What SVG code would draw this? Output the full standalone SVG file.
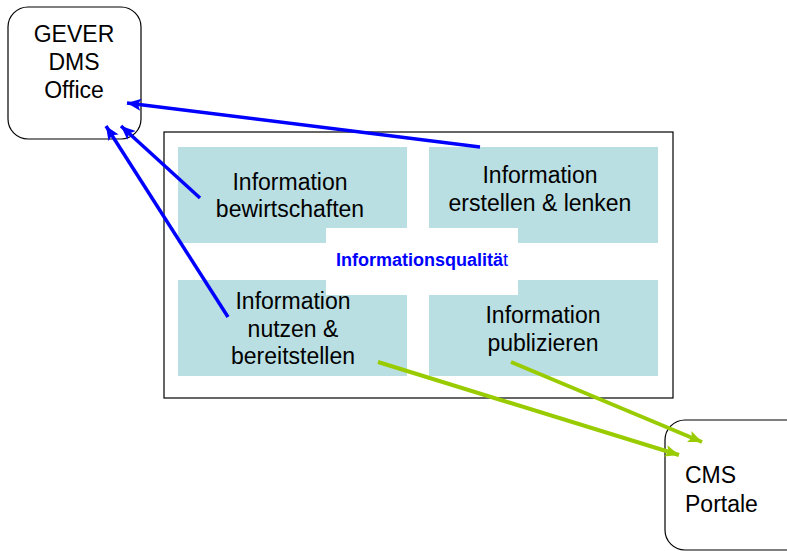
<svg xmlns="http://www.w3.org/2000/svg" width="787" height="551" viewBox="0 0 787 551">
  <style>
    .sys { fill: #ffffff; stroke: #000000; stroke-width: 1.2; }
    .task { fill: #b9dfe2; stroke: none; }
    .lbl { font-family: "Liberation Sans", Arial, sans-serif; font-size: 23px; fill: #000000; text-anchor: middle; }
    .qual { font-family: "Liberation Sans", Arial, sans-serif; font-size: 18px; fill: #0000ff; }
    .blue { stroke: #0000ff; stroke-width: 3.5; fill: none; marker-end: url(#hb); }
    .green { stroke: #99cc00; stroke-width: 4; fill: none; marker-end: url(#hg); }
  </style>
  <defs>
    <marker id="hb" markerUnits="userSpaceOnUse" markerWidth="16" markerHeight="12" refX="14" refY="6" orient="auto">
      <path d="M0,0 L14,6 L0,12 L3,6 Z" fill="#0000ff"/>
    </marker>
    <marker id="hg" markerUnits="userSpaceOnUse" markerWidth="16" markerHeight="12" refX="14" refY="6" orient="auto">
      <path d="M0,0 L14,6 L0,12 L3,6 Z" fill="#99cc00"/>
    </marker>
  </defs>

  <rect width="787" height="551" fill="#ffffff"/>

  <!-- outer frame around the four activities -->
  <g id="frame">
    <rect x="164" y="132" width="509" height="266" fill="#ffffff" stroke="#000000" stroke-width="1.2"/>
  </g>

  <g id="bewirtschaften">
    <rect class="task" x="178" y="147" width="229" height="96"/>
    <text class="lbl" x="290" y="190">Information</text>
    <text class="lbl" x="290" y="217">bewirtschaften</text>
  </g>

  <g id="erstellen">
    <rect class="task" x="429" y="147" width="229" height="96"/>
    <text class="lbl" x="540" y="183">Information</text>
    <text class="lbl" x="540" y="211">erstellen &amp; lenken</text>
  </g>

  <g id="nutzen">
    <rect class="task" x="178" y="280" width="229" height="96"/>
  </g>

  <g id="publizieren">
    <rect class="task" x="429" y="280" width="229" height="96"/>
  </g>

  <!-- central quality label, white panel over the inner corners -->
  <g id="qualitaet">
    <rect x="326" y="228" width="192" height="67" fill="#ffffff"/>
    <text class="qual" x="336" y="266"><tspan font-weight="bold">Informationsqualitä</tspan>t</text>
  </g>

  <g id="nutzen-label">
    <text class="lbl" x="293" y="309">Information</text>
    <text class="lbl" x="293" y="337">nutzen &amp;</text>
    <text class="lbl" x="293" y="364">bereitstellen</text>
  </g>

  <g id="publizieren-label">
    <text class="lbl" x="543" y="323">Information</text>
    <text class="lbl" x="543" y="351">publizieren</text>
  </g>

  <g id="gever">
    <rect class="sys" x="8" y="7" width="133" height="132" rx="20" ry="20"/>
    <text class="lbl" x="74" y="42">GEVER</text>
    <text class="lbl" x="74" y="70">DMS</text>
    <text class="lbl" x="74" y="98">Office</text>
  </g>

  <g id="cms">
    <rect class="sys" x="665" y="420" width="150" height="130" rx="20" ry="20"/>
    <text class="lbl" x="685" y="483" style="text-anchor:start">CMS</text>
    <text class="lbl" x="685" y="512" style="text-anchor:start">Portale</text>
  </g>

  <g id="connectors">
    <line class="blue" x1="480" y1="147" x2="127" y2="103"/>
    <line class="blue" x1="200" y1="198" x2="121" y2="126"/>
    <line class="blue" x1="228" y1="317" x2="106" y2="126"/>
    <line class="green" x1="378" y1="362" x2="679" y2="455"/>
    <line class="green" x1="511" y1="362" x2="702" y2="442"/>
  </g>
</svg>
